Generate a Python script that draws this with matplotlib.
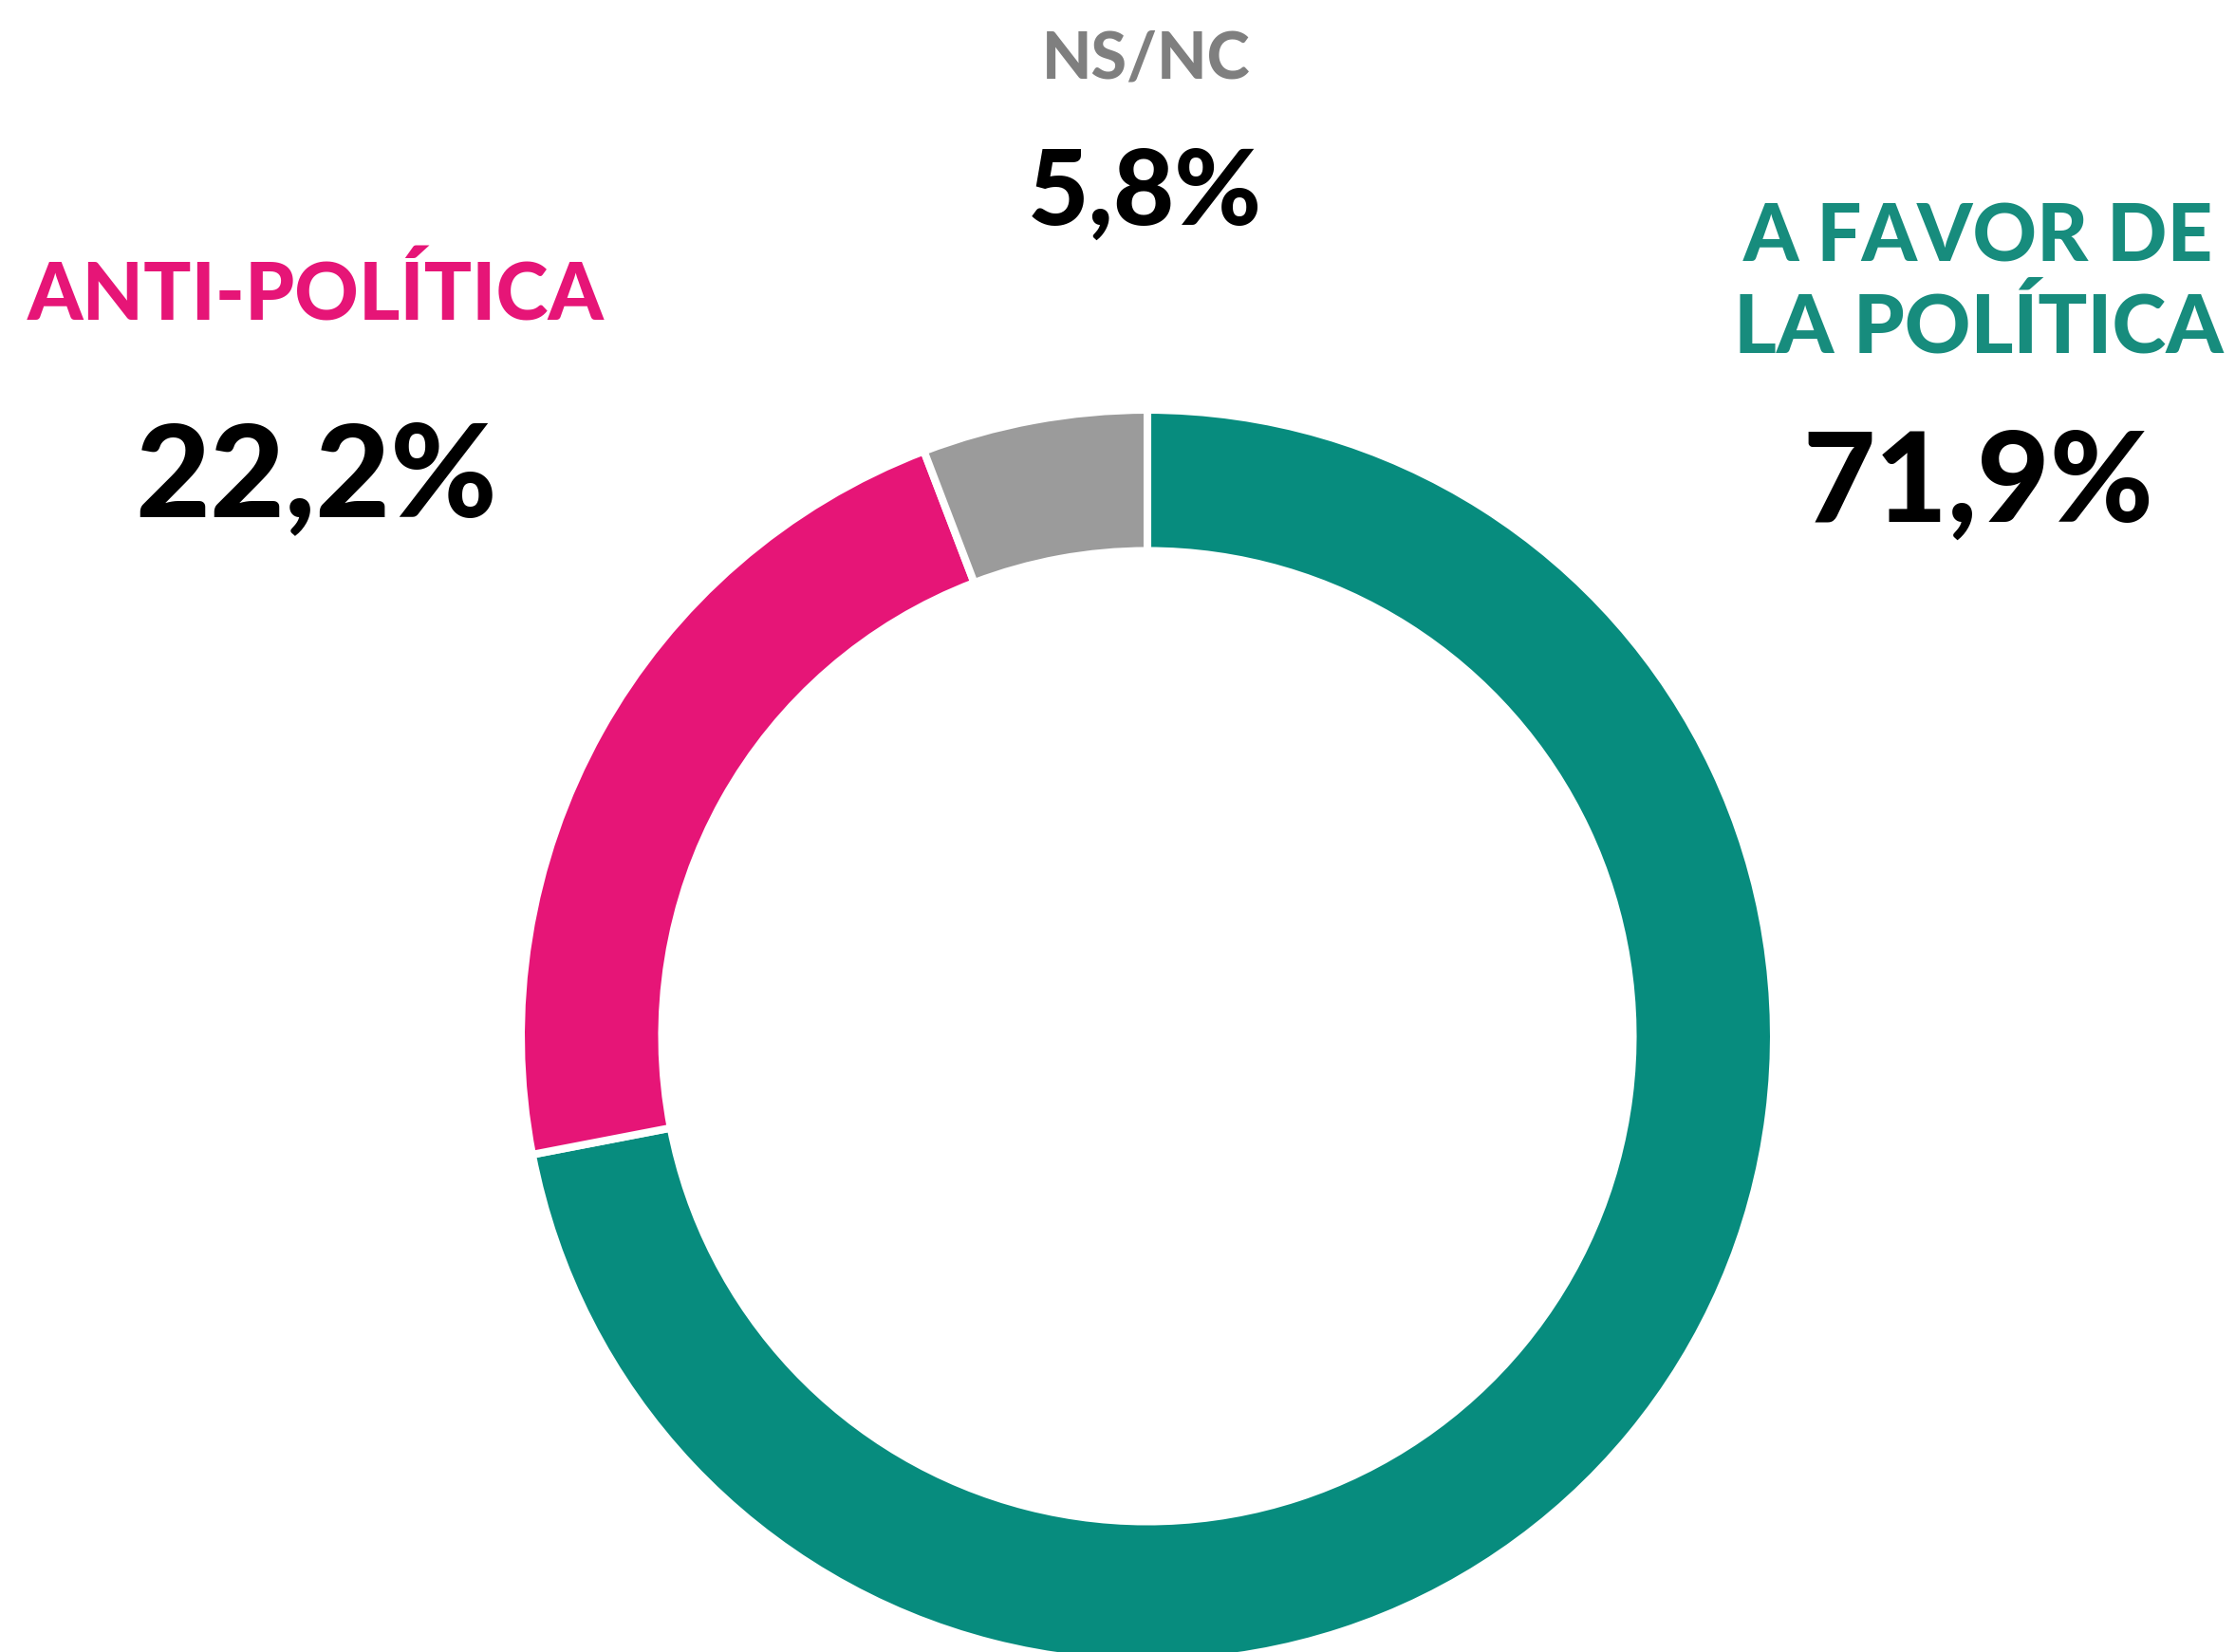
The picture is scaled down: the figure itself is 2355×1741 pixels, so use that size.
import matplotlib.pyplot as plt

# data
labels = ["A FAVOR DE\nLA POLÍTICA", "ANTI-POLÍTICA", "NS/NC"]
values = [71.9, 22.2, 5.8]
value_labels = ["71,9%", "22,2%", "5,8%"]
colors = ["#078C7E", "#E61577", "#9B9B9B"]
label_colors = ["#178C7D", "#E61577", "#7F7F7F"]

W, H = 2355, 1741
fig = plt.figure(figsize=(W / 100, H / 100), dpi=100)
ax = fig.add_axes([0, 0, 1, 1])

# donut, centre sits low so the bottom is cut off like the original
cx, cy, r = 1209, H - 1092, 660
ax.pie(values, colors=colors, startangle=90, counterclock=False,
       center=(cx, cy), radius=r, frame=True,
       wedgeprops=dict(width=r * 0.225, edgecolor="white", linewidth=5.8))
ax.set_xlim(0, W)
ax.set_ylim(0, H)
ax.set_aspect("equal")
ax.axis("off")

font = dict(family=["Lato", "DejaVu Sans"], weight=900)

# category names
fav1, fav2 = labels[0].split("\n")
ax.text(2084, H - 276, fav1, color=label_colors[0], fontsize=60,
        ha="center", va="baseline", **font)
ax.text(2085, H - 372, fav2, color=label_colors[0], fontsize=62,
        ha="center", va="baseline", **font)
ax.text(333, H - 338, labels[1], color=label_colors[1], fontsize=60,
        ha="center", va="baseline", **font)
ax.text(1208, H - 83, labels[2], color=label_colors[2], fontsize=49,
        ha="center", va="baseline", **font)

# percentages
ax.text(2084, H - 550, value_labels[0], color="black", fontsize=95,
        ha="center", va="baseline", **font)
ax.text(333, H - 544, value_labels[1], color="black", fontsize=98,
        ha="center", va="baseline", **font)
ax.text(1206, H - 237, value_labels[2], color="black", fontsize=80,
        ha="center", va="baseline", **font)

fig.savefig("out.png", dpi=100, facecolor="white")
